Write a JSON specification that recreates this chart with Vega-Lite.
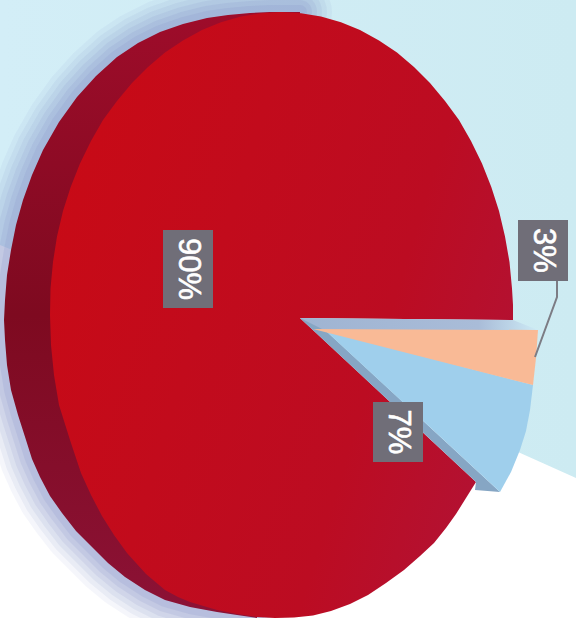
{"$schema":"https://vega.github.io/schema/vega-lite/v6.json","width":576,"height":618,"padding":0,"autosize":"none","background":"#cdeaf5","view":{"stroke":null},
"datasets":{
"sky":[{"i":0,"x":0,"y":0},{"i":1,"x":576,"y":0},{"i":2,"x":576,"y":618},{"i":3,"x":0,"y":618}],
"floor":[{"i":0,"x":0,"y":245},{"i":1,"x":518,"y":452},{"i":2,"x":576,"y":478},{"i":3,"x":576,"y":618},{"i":4,"x":0,"y":618}],
"backEdge":[{"i":0,"x":300,"y":12},{"i":1,"x":270,"y":12},{"i":2,"x":250,"y":13},{"i":3,"x":228,"y":15},{"i":4,"x":207,"y":18},{"i":5,"x":183,"y":24},{"i":6,"x":160,"y":32},{"i":7,"x":138,"y":43},{"i":8,"x":117,"y":57},{"i":9,"x":96,"y":76},{"i":10,"x":77,"y":97},{"i":11,"x":59,"y":122},{"i":12,"x":43,"y":150},{"i":13,"x":32,"y":175},{"i":14,"x":23,"y":200},{"i":15,"x":16,"y":225},{"i":16,"x":11,"y":250},{"i":17,"x":7,"y":275},{"i":18,"x":5,"y":300},{"i":19,"x":4,"y":320},{"i":20,"x":5,"y":340},{"i":21,"x":7,"y":365},{"i":22,"x":11,"y":390},{"i":23,"x":18,"y":415},{"i":24,"x":26,"y":440},{"i":25,"x":32,"y":459},{"i":26,"x":40,"y":477},{"i":27,"x":50,"y":496},{"i":28,"x":62,"y":513},{"i":29,"x":76,"y":531},{"i":30,"x":92,"y":547},{"i":31,"x":108,"y":563},{"i":32,"x":125,"y":577},{"i":33,"x":145,"y":590},{"i":34,"x":165,"y":600},{"i":35,"x":190,"y":607},{"i":36,"x":217,"y":612},{"i":37,"x":237,"y":615},{"i":38,"x":257,"y":618}],
"slice90":[{"i":0,"x":300,"y":318},{"i":1,"x":513,"y":320},{"i":2,"x":513,"y":305},{"i":3,"x":512,"y":288.6},{"i":4,"x":509.5,"y":262},{"i":5,"x":505,"y":236.6},{"i":6,"x":499,"y":211},{"i":7,"x":491.3,"y":187},{"i":8,"x":482,"y":163.5},{"i":9,"x":471,"y":141},{"i":10,"x":459,"y":120},{"i":11,"x":445,"y":101},{"i":12,"x":430,"y":83},{"i":13,"x":414,"y":67},{"i":14,"x":397,"y":52.6},{"i":15,"x":379,"y":40.5},{"i":16,"x":360,"y":30},{"i":17,"x":341,"y":22.3},{"i":18,"x":321,"y":16.6},{"i":19,"x":301,"y":13.2},{"i":20,"x":281,"y":12},{"i":21,"x":261,"y":13.2},{"i":22,"x":241,"y":16.6},{"i":23,"x":221,"y":22.3},{"i":24,"x":202,"y":30},{"i":25,"x":183,"y":40.5},{"i":26,"x":165,"y":52.6},{"i":27,"x":148,"y":67},{"i":28,"x":132,"y":83},{"i":29,"x":117,"y":101},{"i":30,"x":103,"y":120},{"i":31,"x":91,"y":141},{"i":32,"x":80,"y":163.5},{"i":33,"x":70.7,"y":187},{"i":34,"x":63,"y":211},{"i":35,"x":57,"y":236.6},{"i":36,"x":53,"y":262},{"i":37,"x":50.5,"y":288.6},{"i":38,"x":50,"y":315},{"i":39,"x":51,"y":345},{"i":40,"x":54,"y":375},{"i":41,"x":59,"y":405},{"i":42,"x":70,"y":440},{"i":43,"x":81,"y":473},{"i":44,"x":91,"y":495},{"i":45,"x":102,"y":516},{"i":46,"x":114,"y":535},{"i":47,"x":127,"y":553},{"i":48,"x":146,"y":574},{"i":49,"x":165,"y":590},{"i":50,"x":178,"y":597},{"i":51,"x":190,"y":602},{"i":52,"x":217,"y":610},{"i":53,"x":237,"y":614},{"i":54,"x":257,"y":617},{"i":55,"x":275,"y":618},{"i":56,"x":294,"y":617.5},{"i":57,"x":313,"y":615.5},{"i":58,"x":331,"y":611},{"i":59,"x":350,"y":604},{"i":60,"x":368,"y":595},{"i":61,"x":386,"y":583},{"i":62,"x":404,"y":570},{"i":63,"x":420,"y":556},{"i":64,"x":434,"y":543},{"i":65,"x":446,"y":528},{"i":66,"x":456,"y":514},{"i":67,"x":466,"y":498},{"i":68,"x":476,"y":482}],
"wall":[{"i":0,"x":300,"y":318},{"i":1,"x":513,"y":320},{"i":2,"x":538,"y":330},{"i":3,"x":313,"y":330}],
"slice3":[{"i":0,"x":313,"y":329},{"i":1,"x":538,"y":330},{"i":2,"x":536,"y":358},{"i":3,"x":533,"y":385}],
"slice7":[{"i":0,"x":326,"y":331},{"i":1,"x":533,"y":385},{"i":2,"x":530,"y":410},{"i":3,"x":526,"y":431},{"i":4,"x":520,"y":450},{"i":5,"x":511,"y":472},{"i":6,"x":500,"y":492}],
"wall7":[{"i":0,"x":300,"y":318},{"i":1,"x":326,"y":331},{"i":2,"x":500,"y":492},{"i":3,"x":475,"y":490},{"i":4,"x":476,"y":482}],
"leader":[{"i":0,"x":557,"y":281},{"i":1,"x":557,"y":297},{"i":2,"x":535,"y":357}],
"labels":[{"label":"90%","x":163,"x2":213,"y":230,"y2":308},{"label":"7%","x":373,"x2":423,"y":402,"y2":462},{"label":"3%","x":518,"x2":568,"y":220,"y2":281}]
},
"encoding":{"x":{"field":"x","type":"quantitative","axis":null,"scale":{"domain":[0,576],"nice":false,"zero":false}},"y":{"field":"y","type":"quantitative","axis":null,"scale":{"domain":[618,0],"nice":false,"zero":false}},"order":{"field":"i","type":"quantitative"}},
"layer":[
{"data":{"name":"sky"},"mark":{"type":"line","filled":true,"strokeWidth":0,"fill":{"gradient":"linear","x1":0,"y1":0,"x2":1,"y2":0,"stops":[{"offset":0,"color":"#d3eef7"},{"offset":1,"color":"#cdebf2"}]}}},
{"data":{"name":"floor"},"mark":{"type":"line","filled":true,"strokeWidth":0,"fill":"#ffffff"}},
{"data":{"name":"backEdge"},"mark":{"type":"line","clip":true,"stroke":"#8490c8","strokeWidth":64,"opacity":0.08,"strokeCap":"round","strokeJoin":"round"}},
{"data":{"name":"backEdge"},"mark":{"type":"line","clip":true,"stroke":"#8490c8","strokeWidth":54,"opacity":0.1,"strokeCap":"round","strokeJoin":"round"}},
{"data":{"name":"backEdge"},"mark":{"type":"line","clip":true,"stroke":"#8490c8","strokeWidth":44,"opacity":0.12,"strokeCap":"round","strokeJoin":"round"}},
{"data":{"name":"backEdge"},"mark":{"type":"line","clip":true,"stroke":"#8490c8","strokeWidth":34,"opacity":0.14,"strokeCap":"round","strokeJoin":"round"}},
{"data":{"name":"backEdge"},"mark":{"type":"line","clip":true,"stroke":"#8490c8","strokeWidth":24,"opacity":0.16,"strokeCap":"round","strokeJoin":"round"}},
{"data":{"name":"backEdge"},"mark":{"type":"line","clip":true,"stroke":"#8490c8","strokeWidth":14,"opacity":0.18,"strokeCap":"round","strokeJoin":"round"}},
{"data":{"name":"backEdge"},"mark":{"type":"line","filled":true,"strokeWidth":0,"fill":{"gradient":"linear","x1":0,"y1":0,"x2":0,"y2":1,"stops":[{"offset":0,"color":"#9e0c2a"},{"offset":0.5,"color":"#7e0a20"},{"offset":1,"color":"#8c1236"}]}}},
{"data":{"name":"slice90"},"mark":{"type":"line","filled":true,"strokeWidth":0,"fill":{"gradient":"linear","x1":0,"y1":0.3,"x2":1,"y2":0.7,"stops":[{"offset":0,"color":"#c80a16"},{"offset":0.7,"color":"#bc0c22"},{"offset":1,"color":"#b21234"}]}}},
{"data":{"name":"wall"},"mark":{"type":"line","filled":true,"strokeWidth":0,"fill":{"gradient":"linear","x1":0,"y1":0,"x2":1,"y2":0,"stops":[{"offset":0,"color":"#9fb4d2"},{"offset":0.75,"color":"#a9bcd8"},{"offset":1,"color":"#cdeaf5"}]}}},
{"data":{"name":"wall7"},"mark":{"type":"line","filled":true,"strokeWidth":0,"fill":"#86a6c4"}},
{"data":{"name":"slice7"},"mark":{"type":"line","filled":true,"strokeWidth":0,"fill":"#9fcfec"}},
{"data":{"name":"slice3"},"mark":{"type":"line","filled":true,"strokeWidth":0,"fill":"#f9ba96"}},
{"data":{"name":"leader"},"mark":{"type":"line","stroke":"#7c7c84","strokeWidth":2}},
{"data":{"name":"labels"},"mark":{"type":"rect","color":"#706e78"},"encoding":{"x":{"field":"x","type":"quantitative"},"x2":{"field":"x2"},"y":{"field":"y","type":"quantitative"},"y2":{"field":"y2"},"order":{"value":null}}},
{"data":{"name":"labels"},"transform":[{"calculate":"(datum.x+datum.x2)/2","as":"cx"},{"calculate":"(datum.y+datum.y2)/2","as":"cy"}],"mark":{"type":"text","angle":90,"font":"Liberation Sans","fontSize":31,"color":"#ffffff","stroke":"#ffffff","strokeWidth":0.6,"align":"center","baseline":"middle"},"encoding":{"x":{"field":"cx","type":"quantitative"},"y":{"field":"cy","type":"quantitative"},"text":{"field":"label"},"order":{"value":null}}}
]}
